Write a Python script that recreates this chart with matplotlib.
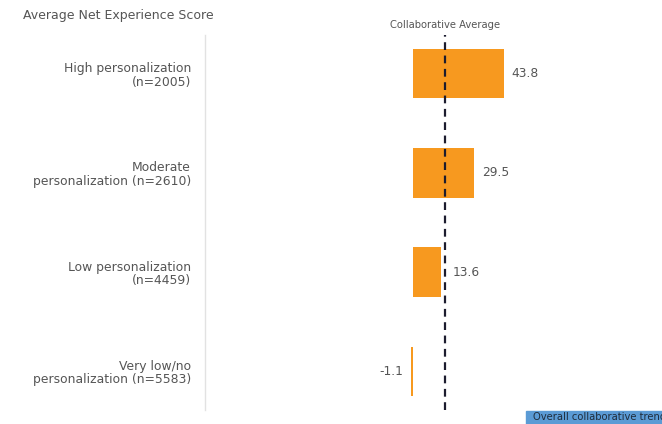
import matplotlib
matplotlib.use("Agg")
import matplotlib.pyplot as plt
from matplotlib.patches import Rectangle

# Data
categories = [
    "High personalization\n(n=2005)",
    "Moderate\npersonalization (n=2610)",
    "Low personalization\n(n=4459)",
    "Very low/no\npersonalization (n=5583)",
]
scores = [43.8, 29.5, 13.6, -1.1]
collab_average = 15.5

BAR_COLOR = "#f7991f"
TEXT_COLOR = "#555555"

plt.rcParams["font.family"] = ["DejaVu Sans"]

fig = plt.figure(figsize=(6.62, 4.24), dpi=100)
W, H = 662, 424
ax = fig.add_axes([205 / W, 1 - 410 / H, (621 - 205) / W, (410 - 35) / H])

ypos = list(range(len(categories)))
ax.barh(ypos, scores, height=0.5, color=BAR_COLOR, zorder=2)

ax.set_xlim(-100, 100)
ax.set_ylim(3.39, -0.39)

# Collaborative average reference line
ax.axvline(collab_average, color="#1c1c2e", linestyle=(0, (3.5, 2.5)),
           linewidth=1.6, zorder=3)
ax.text(collab_average, 1.012, "Collaborative Average", transform=ax.get_xaxis_transform(),
        ha="center", va="bottom", fontsize=7.2, color=TEXT_COLOR)

# Value labels
for y, v in zip(ypos, scores):
    if v >= 0:
        x = max(v, collab_average)
        ax.annotate(f"{v:.1f}", (x, y), xytext=(5.5, 0), textcoords="offset points",
                    ha="left", va="center", fontsize=8.8, color=TEXT_COLOR)
    else:
        ax.annotate(f"{v:.1f}", (v, y), xytext=(-5.5, 0), textcoords="offset points",
                    ha="right", va="center", fontsize=8.8, color=TEXT_COLOR)

# Category labels
ax.set_yticks(ypos)
ax.set_yticklabels(categories, fontsize=8.9, color=TEXT_COLOR, ha="right",
                   multialignment="right", linespacing=1.05)
ax.tick_params(axis="y", length=0, pad=10)
ax.set_xticks([])

for side in ["top", "right", "bottom"]:
    ax.spines[side].set_visible(False)
ax.spines["left"].set_color("#e2e2e2")
ax.spines["left"].set_linewidth(1.0)

fig.text(23 / W, 1 - 16 / H, "Average Net Experience Score", ha="left", va="center",
         fontsize=9.0, color=TEXT_COLOR)

# Trend badge at bottom right (runs off the right edge)
fig.patches.append(Rectangle((526 / W, 0), (W - 526) / W, 13 / H,
                             transform=fig.transFigure, color="#5b9bd5", zorder=5))
fig.text(533 / W, 6.5 / H, "Overall collaborative trend", ha="left", va="center",
         fontsize=7.2, color="#1f2d3d", zorder=6)

fig.savefig("out.png", dpi=100)
